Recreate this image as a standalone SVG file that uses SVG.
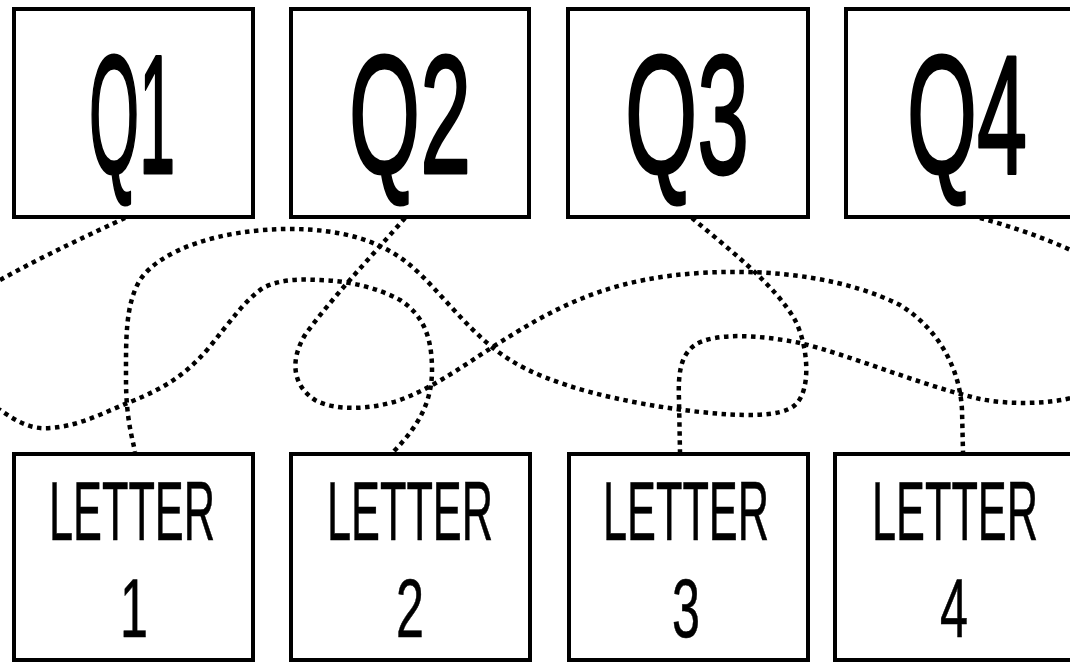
<svg xmlns="http://www.w3.org/2000/svg" width="1070" height="662" viewBox="0 0 1070 662">
<style>
.box{fill:#fff;stroke:#000;stroke-width:4}
.q{font-family:"Liberation Sans",Arial,sans-serif;font-size:168px;fill:#000;text-anchor:middle;stroke:#000;stroke-width:3;stroke-linejoin:round}
.lt{font-family:"Liberation Sans",Arial,sans-serif;font-size:84px;fill:#000;text-anchor:middle;stroke:#000;stroke-width:0.6}
.conn{fill:none;stroke:#000;stroke-width:4.5;stroke-dasharray:4.5 4.5}
</style>
<rect width="1070" height="662" fill="#fff"/>
<g id="connectors">
<path class="conn" d="M125,218 C95,232 45,255 0,280 C-40,302 -60,330 -50,370 C-45,395 -20,400 0,410 C15,420 30,430 50,428 C80,426 105,412 130,402 C165,388 185,375 207,350 C230,322 245,300 263,288 C280,279 300,279 320,280 C350,281 378,288 400,300 C425,316 432,340 432,370 C432,400 420,425 393,452"/>
<path class="conn" d="M405,218 C370,258 330,300 305,335 C290,360 292,385 315,400 C335,411 370,410 400,400 C440,385 470,360 520,330 C570,300 620,278 700,273 C780,268 850,280 900,305 C940,330 960,370 962,410 L963,452"/>
<path class="conn" d="M692,218 C730,250 775,285 795,320 C808,345 812,390 795,405 C780,418 740,416 700,412 C620,403 550,385 510,360 C470,335 440,290 410,265 C380,240 340,229 290,229 C220,229 160,250 140,280 C125,305 126,340 126,380 C126,420 133,440 135,452"/>
<path class="conn" d="M980,218 C1010,226 1045,238 1075,252 C1120,275 1130,380 1075,397 C1050,404 1010,405 980,399 C920,385 850,355 800,343 C760,335 715,332 695,345 C680,355 678,375 679,400 L680,452"/>
</g>
<g id="q1"><rect class="box" x="14" y="9" width="239" height="208"/><text class="q" x="132" y="173" textLength="86" lengthAdjust="spacingAndGlyphs">Q1</text></g>
<g id="q2"><rect class="box" x="291" y="9" width="238" height="208"/><text class="q" x="410" y="173" textLength="122" lengthAdjust="spacingAndGlyphs">Q2</text></g>
<g id="q3"><rect class="box" x="568" y="9" width="240" height="208"/><text class="q" x="687" y="173" textLength="124" lengthAdjust="spacingAndGlyphs">Q3</text></g>
<g id="q4"><rect class="box" x="846" y="9" width="240" height="208"/><text class="q" x="967" y="173" textLength="120" lengthAdjust="spacingAndGlyphs">Q4</text></g>
<g id="letter1"><rect class="box" x="14" y="454" width="239" height="206"/><text class="lt" x="132" y="540" textLength="166" lengthAdjust="spacingAndGlyphs">LETTER</text><text class="lt" x="134" y="637" textLength="28" lengthAdjust="spacingAndGlyphs">1</text></g>
<g id="letter2"><rect class="box" x="291" y="454" width="239" height="206"/><text class="lt" x="410" y="540" textLength="166" lengthAdjust="spacingAndGlyphs">LETTER</text><text class="lt" x="410" y="637" textLength="28" lengthAdjust="spacingAndGlyphs">2</text></g>
<g id="letter3"><rect class="box" x="569" y="454" width="239" height="206"/><text class="lt" x="686" y="540" textLength="166" lengthAdjust="spacingAndGlyphs">LETTER</text><text class="lt" x="686" y="637" textLength="28" lengthAdjust="spacingAndGlyphs">3</text></g>
<g id="letter4"><rect class="box" x="835" y="454" width="245" height="206"/><text class="lt" x="955" y="540" textLength="166" lengthAdjust="spacingAndGlyphs">LETTER</text><text class="lt" x="954" y="637" textLength="28" lengthAdjust="spacingAndGlyphs">4</text></g>
</svg>
